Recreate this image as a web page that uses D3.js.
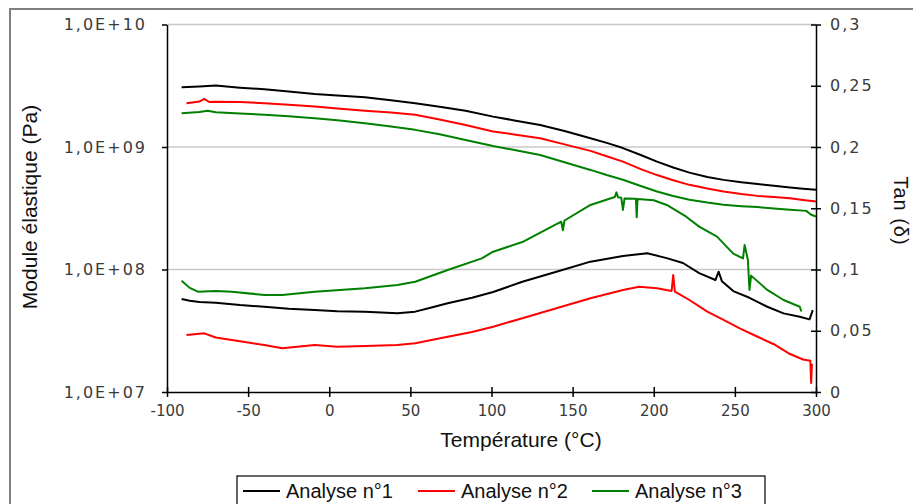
<!DOCTYPE html>
<html>
<head>
<meta charset="utf-8">
<script src="https://cdn.jsdelivr.net/npm/d3@7"></script>
<style>
  html, body { margin: 0; padding: 0; background: #fff; }
  svg { display: block; }
</style>
</head>
<body>
<svg id="chart" width="913" height="504"></svg>
<script>
// ---------- DATA ----------
const seriesNames = ["Analyse n°1", "Analyse n°2", "Analyse n°3"];
const seriesColors = ["#000000", "#ff0000", "#008000"];

const xTickValues = [-100, -50, 0, 50, 100, 150, 200, 250, 300];
const leftTickValues = [1e7, 1e8, 1e9, 1e10];
const leftTickLabels = ["1,0E+07", "1,0E+08", "1,0E+09", "1,0E+10"];
const rightTickValues = [0, 0.05, 0.1, 0.15, 0.2, 0.25, 0.3];
const rightTickLabels = ["0", "0,05", "0,1", "0,15", "0,2", "0,25", "0,3"];

// Storage modulus E' (Pa) : [temperature °C, value]
const modulus1 = [[-91,3.08e9],[-80,3.12e9],[-70,3.17e9],[-55,3.05e9],[-40,2.96e9],[-25,2.84e9],[-9,2.71e9],[5,2.63e9],[22,2.55e9],[38,2.41e9],[53,2.28e9],[68,2.13e9],[84,1.98e9],[101,1.77e9],[115,1.64e9],[130,1.51e9],[145,1.35e9],[161,1.18e9],[171,1.08e9],[181,9.8e8],[192,8.6e8],[202,7.6e8],[212,6.8e8],[222,6.18e8],[233,5.7e8],[243,5.39e8],[254,5.15e8],[264,4.98e8],[274,4.82e8],[284,4.67e8],[292,4.57e8],[300,4.47e8]];
const modulus2 = [[-88,2.28e9],[-80,2.35e9],[-77,2.47e9],[-74,2.33e9],[-70,2.34e9],[-55,2.33e9],[-40,2.28e9],[-25,2.21e9],[-9,2.14e9],[5,2.06e9],[22,1.98e9],[38,1.91e9],[53,1.83e9],[68,1.68e9],[84,1.51e9],[101,1.34e9],[115,1.26e9],[130,1.18e9],[145,1.05e9],[161,9.3e8],[171,8.4e8],[181,7.6e8],[192,6.6e8],[202,5.9e8],[212,5.35e8],[222,4.91e8],[233,4.58e8],[243,4.33e8],[254,4.13e8],[264,3.99e8],[274,3.9e8],[284,3.82e8],[292,3.7e8],[300,3.59e8]];
const modulus3 = [[-91,1.89e9],[-80,1.93e9],[-75,1.98e9],[-70,1.92e9],[-55,1.88e9],[-40,1.83e9],[-25,1.78e9],[-9,1.72e9],[5,1.65e9],[22,1.56e9],[38,1.47e9],[53,1.38e9],[68,1.27e9],[84,1.14e9],[101,1.02e9],[115,9.4e8],[130,8.6e8],[145,7.5e8],[161,6.5e8],[171,5.9e8],[181,5.4e8],[192,4.8e8],[202,4.33e8],[212,3.98e8],[222,3.71e8],[233,3.52e8],[243,3.38e8],[254,3.29e8],[264,3.23e8],[274,3.15e8],[284,3.07e8],[294,3.01e8],[297,2.8e8],[300,2.71e8]];

// Tan delta : [temperature °C, value]
const tan1 = [[-91,0.0759],[-86,0.0745],[-80,0.0735],[-70,0.0729],[-55,0.0710],[-40,0.0696],[-25,0.0680],[-9,0.0669],[5,0.0660],[22,0.0656],[42,0.0642],[53,0.0656],[63,0.0690],[73,0.0724],[88,0.0770],[101,0.0816],[119,0.0900],[140,0.0982],[161,0.1064],[181,0.1110],[196,0.1132],[208,0.1093],[218,0.1053],[228,0.0971],[238,0.0914],[240,0.0982],[242,0.0905],[249,0.0824],[259,0.0769],[270,0.0696],[280,0.0642],[290,0.0614],[296,0.0593],[298,0.0669]];
const tan2 = [[-88,0.0465],[-77,0.0479],[-70,0.0445],[-60,0.0424],[-40,0.0384],[-29,0.0357],[-9,0.0384],[5,0.0370],[22,0.0376],[42,0.0384],[53,0.0398],[73,0.0451],[88,0.0490],[101,0.0533],[119,0.0602],[140,0.0683],[161,0.0765],[181,0.0833],[191,0.0860],[202,0.0847],[211,0.0825],[212,0.0955],[213,0.0820],[222,0.0751],[233,0.0656],[243,0.0588],[253,0.0520],[264,0.0451],[274,0.0390],[284,0.0310],[292,0.0265],[296.5,0.0255],[297,0.0073],[297.5,0.0230]];
const tan3 = [[-91,0.0909],[-86,0.0850],[-81,0.0819],[-70,0.0825],[-60,0.0819],[-40,0.0792],[-29,0.0792],[-9,0.0819],[22,0.0847],[42,0.0873],[53,0.0900],[73,0.0996],[94,0.1091],[101,0.1145],[119,0.1224],[140,0.1371],[143,0.1390],[144,0.1320],[145,0.1400],[161,0.1527],[176,0.1592],[177,0.1630],[178,0.1590],[180,0.1585],[181,0.1486],[182,0.1580],[189,0.1578],[189.5,0.1426],[190,0.1575],[200,0.1565],[208,0.1527],[220,0.1431],[228,0.1350],[239,0.1268],[249,0.1130],[255,0.1090],[256,0.1200],[258,0.1080],[259,0.0833],[260,0.0950],[270,0.0833],[280,0.0751],[290,0.0696],[291,0.0657]];

const modulusSeries = [modulus1, modulus2, modulus3];
const tanSeries = [tan1, tan2, tan3];

// ---------- LAYOUT ----------
const svg = d3.select("#chart");
const plotLeft = 167, plotRight = 816, plotTop = 24.5, plotBottom = 392;

const x = d3.scaleLinear().domain([-100, 300]).range([plotLeft, plotRight]);
const yL = d3.scaleLog().domain([1e7, 1e10]).range([plotBottom, plotTop]);
const yR = d3.scaleLinear().domain([0, 0.3]).range([plotBottom, plotTop]);

// Outer frame
svg.append("rect")
  .attr("x", 10).attr("y", 9).attr("width", 960).attr("height", 560)
  .attr("fill", "none").attr("stroke", "#808080").attr("stroke-width", 2);

// Gridlines
svg.append("g").selectAll("line").data(leftTickValues.filter(d => d > 1e7)).join("line")
  .attr("x1", plotLeft).attr("x2", plotRight)
  .attr("y1", d => yL(d)).attr("y2", d => yL(d))
  .attr("stroke", "#c8c8c8").attr("stroke-width", 1.5);

const tickFont = "'DejaVu Sans', Verdana, sans-serif";

// Left axis
const gL = svg.append("g").attr("transform", `translate(${plotLeft},0)`)
  .call(d3.axisLeft(yL).tickValues(leftTickValues)
    .tickFormat((d, i) => leftTickLabels[i]).tickSizeInner(5).tickSizeOuter(0).tickPadding(15));
// Right axis
const gR = svg.append("g").attr("transform", `translate(${plotRight},0)`)
  .call(d3.axisRight(yR).tickValues(rightTickValues)
    .tickFormat((d, i) => rightTickLabels[i]).tickSizeInner(5).tickSizeOuter(0).tickPadding(9));
gR.selectAll(".tick line").attr("x1", -5);
// Bottom axis
const gB = svg.append("g").attr("transform", `translate(0,${plotBottom})`)
  .call(d3.axisBottom(x).tickValues(xTickValues)
    .tickFormat(d => String(d)).tickSizeInner(5).tickSizeOuter(0).tickPadding(8));
gB.selectAll(".tick line").attr("y1", -5);

[gL, gR, gB].forEach(g => {
  g.select(".domain").attr("stroke", "#000").attr("stroke-width", 1.5);
  g.selectAll(".tick line").attr("stroke", "#000").attr("stroke-width", 1.5);
  g.selectAll(".tick text").attr("fill", "#3a3a3a").style("font-family", tickFont)
    .style("font-size", "16px").style("letter-spacing", "2px");
});
gB.selectAll(".tick text").style("font-size", "15px").style("letter-spacing", "0px");

// Lines
const lineL = d3.line().x(d => x(d[0])).y(d => yL(d[1]));
const lineR = d3.line().x(d => x(d[0])).y(d => yR(d[1]));

const plot = svg.append("g");
modulusSeries.forEach((s, i) => {
  plot.append("path").datum(s).attr("d", lineL)
    .attr("fill", "none").attr("stroke", seriesColors[i]).attr("stroke-width", 2)
    .attr("stroke-linejoin", "round");
});
tanSeries.forEach((s, i) => {
  plot.append("path").datum(s).attr("d", lineR)
    .attr("fill", "none").attr("stroke", seriesColors[i]).attr("stroke-width", 2)
    .attr("stroke-linejoin", "round");
});

// Axis titles
const titleFont = "'Liberation Sans', Arial, sans-serif";
svg.append("text").attr("x", 521).attr("y", 447).attr("text-anchor", "middle")
  .style("font-family", titleFont).style("font-size", "21px").attr("fill", "#111")
  .text("Température (°C)");
svg.append("text").attr("transform", "translate(37,207) rotate(-90)").attr("text-anchor", "middle")
  .style("font-family", titleFont).style("font-size", "21px").attr("fill", "#111")
  .text("Module élastique (Pa)");
svg.append("text").attr("transform", "translate(894,211) rotate(90)").attr("text-anchor", "middle")
  .style("font-family", titleFont).style("font-size", "20px").attr("fill", "#111")
  .style("letter-spacing", "1px")
  .text("Tan (δ)");

// Legend
const lg = svg.append("g");
lg.append("rect").attr("x", 237).attr("y", 476).attr("width", 528).attr("height", 40)
  .attr("fill", "#fff").attr("stroke", "#000").attr("stroke-width", 1.2);
const legendX = [243, 418, 592];
seriesNames.forEach((name, i) => {
  lg.append("line").attr("x1", legendX[i]).attr("x2", legendX[i] + 37)
    .attr("y1", 491).attr("y2", 491)
    .attr("stroke", seriesColors[i]).attr("stroke-width", 2);
  lg.append("text").attr("x", legendX[i] + 43).attr("y", 498)
    .style("font-family", titleFont).style("font-size", "20px").attr("fill", "#111")
    .text(name);
});
</script>
</body>
</html>
